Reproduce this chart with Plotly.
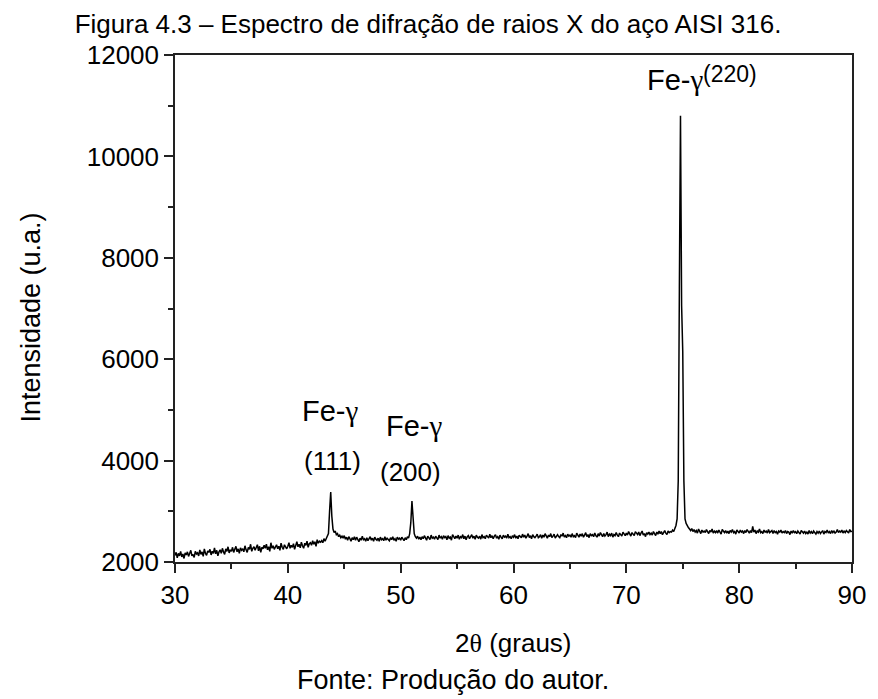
import numpy as np
import plotly.graph_objects as go

# 2-theta grid: 30.0 .. 90.0 in 0.1 degree steps
two_theta = np.round(np.arange(300, 901) / 10.0, 1)

# intensity (one row per degree: x.0 .. x.9)
intensity = [
    2130, 2190, 2080, 2170, 2120, 2210, 2100, 2160, 2070, 2180,  # 30
    2140, 2200, 2110, 2170, 2230, 2120, 2150, 2090, 2210, 2160,  # 31
    2180, 2120, 2240, 2150, 2200, 2110, 2260, 2170, 2130, 2220,  # 32
    2190, 2250, 2140, 2210, 2170, 2280, 2160, 2230, 2120, 2200,  # 33
    2240, 2170, 2270, 2200, 2150, 2260, 2210, 2300, 2180, 2240,  # 34
    2210, 2290, 2190, 2250, 2310, 2200, 2260, 2170, 2280, 2230,  # 35
    2260, 2200, 2320, 2240, 2190, 2290, 2250, 2350, 2210, 2270,  # 36
    2300, 2230, 2280, 2340, 2220, 2310, 2190, 2290, 2260, 2330,  # 37
    2270, 2350, 2240, 2300, 2210, 2380, 2270, 2320, 2250, 2310,  # 38
    2340, 2260, 2310, 2230, 2370, 2290, 2250, 2340, 2300, 2260,  # 39
    2310, 2380, 2270, 2330, 2290, 2360, 2250, 2340, 2400, 2300,  # 40
    2350, 2280, 2390, 2320, 2270, 2370, 2330, 2410, 2290, 2360,  # 41
    2380, 2330, 2420, 2350, 2400, 2310, 2440, 2370, 2410, 2390,  # 42
    2420, 2380, 2460, 2410, 2450, 2500, 2560, 3000, 3380, 2900,  # 43
    2650, 2580, 2610, 2540, 2560, 2500, 2530, 2480, 2510, 2470,  # 44
    2520, 2450, 2490, 2430, 2500, 2460, 2410, 2480, 2440, 2500,  # 45
    2430, 2490, 2450, 2400, 2470, 2430, 2510, 2440, 2460, 2410,  # 46
    2480, 2420, 2460, 2500, 2430, 2470, 2410, 2490, 2450, 2430,  # 47
    2470, 2410, 2490, 2440, 2460, 2420, 2500, 2430, 2470, 2450,  # 48
    2420, 2480, 2440, 2500, 2430, 2460, 2410, 2490, 2450, 2470,  # 49
    2430, 2490, 2450, 2420, 2480, 2440, 2500, 2470, 2560, 2780,  # 50
    3200, 2750, 2560, 2500, 2470, 2510, 2450, 2490, 2440, 2500,  # 51
    2460, 2520, 2470, 2430, 2510, 2480, 2440, 2530, 2470, 2490,  # 52
    2450, 2510, 2480, 2440, 2530, 2470, 2500, 2450, 2520, 2480,  # 53
    2500, 2440, 2520, 2470, 2490, 2430, 2540, 2480, 2460, 2510,  # 54
    2470, 2530, 2450, 2500, 2480, 2540, 2460, 2510, 2440, 2500,  # 55
    2520, 2460, 2500, 2540, 2470, 2510, 2450, 2530, 2490, 2470,  # 56
    2510, 2450, 2540, 2480, 2500, 2460, 2530, 2490, 2470, 2550,  # 57
    2480, 2520, 2460, 2510, 2540, 2470, 2500, 2450, 2530, 2490,  # 58
    2460, 2530, 2490, 2510, 2470, 2550, 2480, 2500, 2460, 2520,  # 59
    2490, 2540, 2470, 2510, 2460, 2530, 2500, 2480, 2550, 2490,  # 60
    2530, 2470, 2510, 2560, 2480, 2520, 2460, 2540, 2500, 2480,  # 61
    2510, 2550, 2480, 2500, 2540, 2470, 2530, 2490, 2560, 2500,  # 62
    2470, 2530, 2500, 2560, 2480, 2510, 2550, 2470, 2520, 2540,  # 63
    2500, 2480, 2540, 2510, 2570, 2490, 2520, 2480, 2550, 2510,  # 64
    2530, 2490, 2560, 2500, 2520, 2480, 2570, 2530, 2490, 2550,  # 65
    2510, 2560, 2490, 2530, 2580, 2500, 2540, 2480, 2560, 2520,  # 66
    2540, 2500, 2570, 2520, 2490, 2560, 2510, 2580, 2530, 2500,  # 67
    2560, 2510, 2540, 2590, 2500, 2550, 2520, 2570, 2490, 2540,  # 68
    2520, 2580, 2530, 2500, 2570, 2540, 2510, 2590, 2550, 2520,  # 69
    2570, 2530, 2600, 2540, 2510, 2580, 2550, 2520, 2600, 2560,  # 70
    2540, 2590, 2520, 2570, 2610, 2530, 2560, 2500, 2580, 2550,  # 71
    2590, 2540, 2570, 2530, 2600, 2560, 2520, 2590, 2550, 2610,  # 72
    2560, 2600, 2540, 2580, 2620, 2570, 2540, 2610, 2580, 2600,  # 73
    2590, 2630, 2600, 2660, 2720, 2850, 3600, 7400, 10800, 7050,  # 74
    6150, 3600, 2850, 2760, 2700, 2680, 2650, 2620, 2660, 2600,  # 75
    2640, 2590, 2620, 2570, 2650, 2600, 2560, 2630, 2590, 2610,  # 76
    2580, 2640, 2600, 2560, 2620, 2590, 2650, 2570, 2610, 2580,  # 77
    2620, 2570, 2630, 2590, 2550, 2640, 2600, 2580, 2620, 2570,  # 78
    2610, 2560, 2620, 2590, 2640, 2580, 2600, 2550, 2630, 2590,  # 79
    2570, 2630, 2590, 2610, 2560, 2620, 2580, 2640, 2600, 2570,  # 80
    2620, 2580, 2700, 2590, 2630, 2560, 2610, 2590, 2650, 2580,  # 81
    2600, 2560, 2630, 2590, 2610, 2570, 2640, 2580, 2600, 2620,  # 82
    2560, 2620, 2580, 2600, 2550, 2610, 2590, 2630, 2570, 2600,  # 83
    2580, 2620, 2560, 2600, 2590, 2540, 2610, 2570, 2620, 2580,  # 84
    2600, 2560, 2610, 2580, 2550, 2620, 2590, 2570, 2610, 2560,  # 85
    2590, 2550, 2620, 2570, 2600, 2560, 2610, 2580, 2550, 2600,  # 86
    2570, 2610, 2560, 2590, 2620, 2550, 2600, 2580, 2630, 2570,  # 87
    2600, 2560, 2620, 2580, 2610, 2570, 2590, 2640, 2580, 2610,  # 88
    2590, 2630, 2570, 2610, 2580, 2620, 2600, 2570, 2640, 2600,  # 89
    2610,                                                        # 90
]

x_ticks = [30, 40, 50, 60, 70, 80, 90]
y_ticks = [2000, 4000, 6000, 8000, 10000, 12000]
y_tick_labels = ["2000", "4000", "6000", "8000", "10000", "12000"]

# peak labels: (text, x, y, size)
SERIF = "Liberation Serif"
gamma = f"Fe-<span style='font-family:{SERIF}'>γ</span>"
peak_labels = [
    (gamma, 43.77, 4978, 29),
    ("(111)", 43.95, 3992, 26),
    (gamma, 51.23, 4682, 29),
    ("(200)", 50.88, 3775, 26),
    (gamma, 74.39, 11500, 29),
    ("(220)", 79.2, 11620, 23),
]

FONT = "Liberation Sans, Arial, sans-serif"

fig = go.Figure()
fig.add_trace(go.Scatter(
    x=two_theta, y=intensity, mode="lines",
    line=dict(color="black", width=1.5), showlegend=False,
))

for text, x, y, size in peak_labels:
    fig.add_annotation(x=x, y=y, xref="x", yref="y", text=text, showarrow=False,
                       xanchor="center", yanchor="middle",
                       font=dict(family=FONT, size=size, color="black"))

# axis titles & caption
fig.add_annotation(x=0.5, y=-0.16, xref="paper", yref="paper",
                   text=f"2<span style='font-family:{SERIF}'>θ</span> (graus)",
                   showarrow=False, xanchor="center", yanchor="middle",
                   font=dict(family=FONT, size=26, color="black"))
fig.add_annotation(x=-0.212, y=0.483, xref="paper", yref="paper",
                   text="Intensidade (u.a.)", textangle=-90,
                   showarrow=False, xanchor="center", yanchor="middle",
                   font=dict(family=FONT, size=27, color="black"))
fig.add_annotation(x=0.411, y=-0.233, xref="paper", yref="paper",
                   text="Fonte: Produção do autor.",
                   showarrow=False, xanchor="center", yanchor="middle",
                   font=dict(family=FONT, size=27, color="black"))

axis_common = dict(
    showgrid=False, zeroline=False, showline=True, linecolor="#222",
    linewidth=1.5, mirror=True, ticks="outside", ticklen=9, tickwidth=1.5,
    tickcolor="#222", tickfont=dict(family=FONT, size=26, color="black"),
)

fig.update_layout(
    width=878, height=699,
    margin=dict(l=175, r=19, t=55, b=137),
    paper_bgcolor="white", plot_bgcolor="white",
    title=dict(text="Figura 4.3 – Espectro de difração de raios X do aço AISI 316.",
               x=0.4875, xanchor="center", y=0.966, yanchor="middle",
               font=dict(family=FONT, size=26, color="black")),
    xaxis=dict(range=[30, 90], tickvals=x_ticks,
               minor=dict(dtick=5, ticklen=5, tickwidth=1.5, tickcolor="#222", ticks="outside"),
               **axis_common),
    yaxis=dict(range=[2000, 12000], tickvals=y_ticks, ticktext=y_tick_labels,
               minor=dict(dtick=1000, ticklen=5, tickwidth=1.5, tickcolor="#222", ticks="outside"),
               **axis_common),
)

fig.write_html("out.html")
